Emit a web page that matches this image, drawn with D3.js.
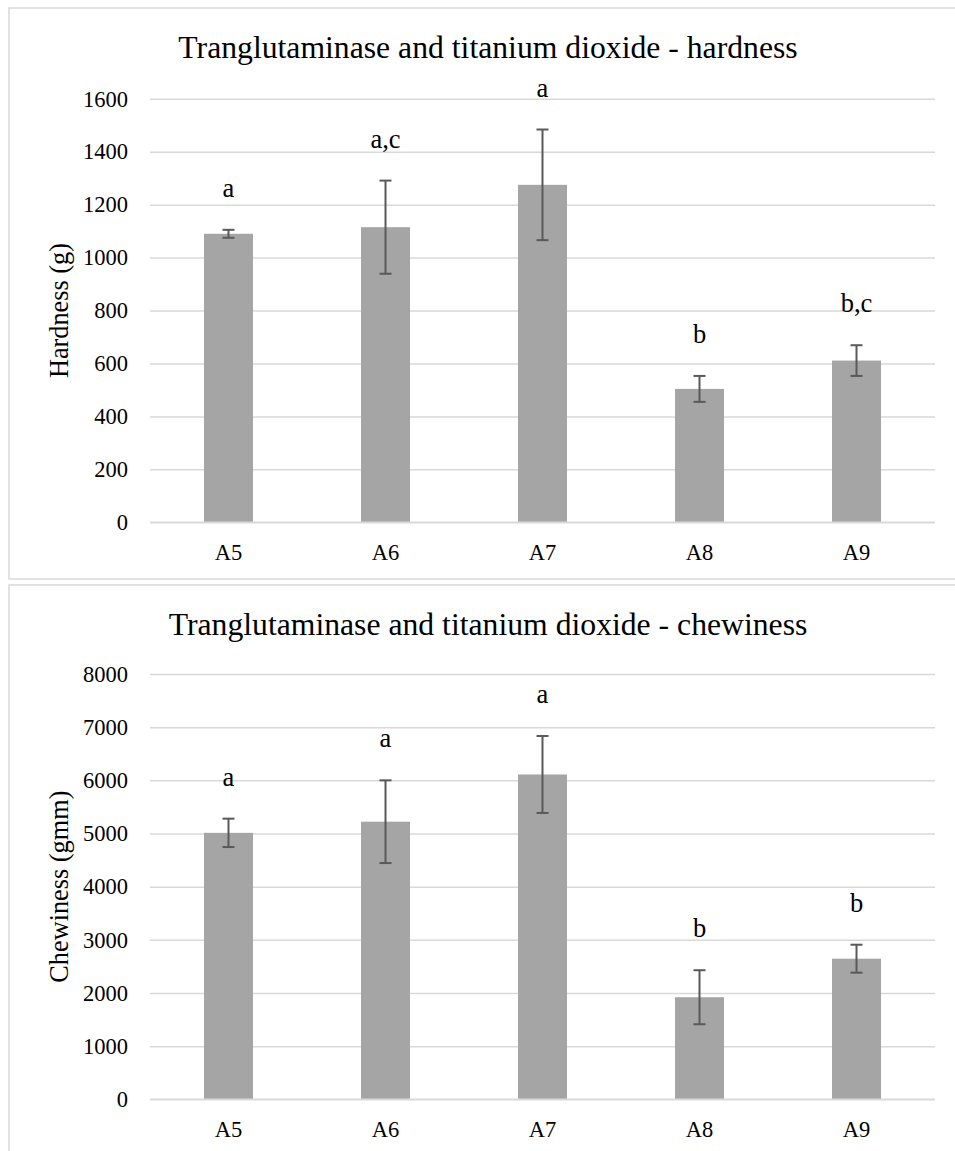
<!DOCTYPE html>
<html>
<head>
<meta charset="utf-8">
<script src="https://cdn.jsdelivr.net/npm/d3@7"></script>
<style>
  html, body { margin: 0; padding: 0; background: #ffffff; }
  svg { display: block; }
  svg text { font-family: "Liberation Serif", "Times New Roman", serif !important; }
</style>
</head>
<body>
<svg id="chart" width="955" height="1151"></svg>
<script>
// ---- data ----
const categories = ["A5", "A6", "A7", "A8", "A9"];

const hardnessValues = [1090, 1115, 1275, 504, 611];
const hardnessErrors = [15, 176, 209, 49, 58];
const hardnessLetters = ["a", "a,c", "a", "b", "b,c"];
const hardnessTicks = [0, 200, 400, 600, 800, 1000, 1200, 1400, 1600];

const chewinessValues = [5012, 5222, 6110, 1920, 2645];
const chewinessErrors = [267, 778, 724, 508, 263];
const chewinessLetters = ["a", "a", "a", "b", "b"];
const chewinessTicks = [0, 1000, 2000, 3000, 4000, 5000, 6000, 7000, 8000];

const titles = [
  "Tranglutaminase and titanium dioxide - hardness",
  "Tranglutaminase and titanium dioxide - chewiness"
];
const yTitles = ["Hardness (g)", "Chewiness (gmm)"];

// ---- drawing ----
const FONT = "'Liberation Serif', 'Times New Roman', serif";
const svg = d3.select("#chart");

const panels = [
  { top: 8, bottom: 579, plotTop: 98.8, plotBottom: 522.3,
    values: hardnessValues, errors: hardnessErrors, letters: hardnessLetters,
    ticks: hardnessTicks, title: titles[0], yTitle: yTitles[0] },
  { top: 585, bottom: 1170, plotTop: 674, plotBottom: 1099.3,
    values: chewinessValues, errors: chewinessErrors, letters: chewinessLetters,
    ticks: chewinessTicks, title: titles[1], yTitle: yTitles[1] }
];

const plotLeft = 150, plotRight = 935;
const gridColor = "#d9d9d9";

panels.forEach(p => {
  const g = svg.append("g");

  // chart area border
  g.append("rect")
    .attr("x", 9).attr("y", p.top)
    .attr("width", 1000).attr("height", p.bottom - p.top)
    .attr("fill", "#ffffff")
    .attr("stroke", gridColor).attr("stroke-width", 1.5);

  const x = d3.scaleBand()
    .domain(categories)
    .range([plotLeft, plotRight])
    .paddingInner(0.688)
    .paddingOuter(0.344);

  const y = d3.scaleLinear()
    .domain([d3.min(p.ticks), d3.max(p.ticks)])
    .range([p.plotBottom, p.plotTop]);

  // gridlines + y tick labels via axis
  const yAxis = d3.axisLeft(y)
    .tickValues(p.ticks)
    .tickSize(-(plotRight - plotLeft))
    .tickPadding(22)
    .tickFormat(d3.format("d"));

  const ya = g.append("g")
    .attr("transform", `translate(${plotLeft},0)`)
    .call(yAxis)
    .attr("font-family", null);
  ya.select(".domain").remove();
  ya.selectAll(".tick line")
    .attr("stroke", gridColor).attr("stroke-width", 1.5);
  ya.selectAll(".tick text")
    .style("font-family", FONT)
    .style("font-size", "22.5px")
    .attr("fill", "#000000");

  // bars
  g.selectAll("rect.bar")
    .data(p.values)
    .enter().append("rect")
    .attr("class", "bar")
    .attr("x", (d, i) => x(categories[i]))
    .attr("y", d => y(d))
    .attr("width", x.bandwidth())
    .attr("height", d => y(0) - y(d))
    .attr("fill", "#a5a5a5");

  // x-axis baseline
  g.append("line")
    .attr("x1", plotLeft).attr("x2", plotRight)
    .attr("y1", y(0)).attr("y2", y(0))
    .attr("stroke", gridColor).attr("stroke-width", 1.5);

  // x tick labels via axis
  const xAxis = d3.axisBottom(x).tickSize(0).tickPadding(22);
  const xa = g.append("g")
    .attr("transform", `translate(0,${y(0)})`)
    .call(xAxis)
    .attr("font-family", null);
  xa.select(".domain").remove();
  xa.selectAll(".tick text")
    .style("font-family", FONT)
    .style("font-size", "22.5px")
    .attr("fill", "#000000")
    .attr("dy", "0.71em");

  // error bars
  const cx = i => x(categories[i]) + x.bandwidth() / 2;
  const capHalf = 6;
  const eb = g.selectAll("g.err")
    .data(p.values.map((v, i) => ({ v, e: p.errors[i], i })))
    .enter().append("g").attr("class", "err")
    .attr("stroke", "#595959").attr("stroke-width", 2);
  eb.append("line")
    .attr("x1", d => cx(d.i)).attr("x2", d => cx(d.i))
    .attr("y1", d => y(d.v + d.e)).attr("y2", d => y(d.v - d.e));
  eb.append("line")
    .attr("x1", d => cx(d.i) - capHalf).attr("x2", d => cx(d.i) + capHalf)
    .attr("y1", d => y(d.v + d.e)).attr("y2", d => y(d.v + d.e));
  eb.append("line")
    .attr("x1", d => cx(d.i) - capHalf).attr("x2", d => cx(d.i) + capHalf)
    .attr("y1", d => y(d.v - d.e)).attr("y2", d => y(d.v - d.e));

  // significance letters
  g.selectAll("text.letter")
    .data(p.letters)
    .enter().append("text")
    .attr("class", "letter")
    .attr("x", (d, i) => cx(i))
    .attr("y", (d, i) => y(p.values[i] + p.errors[i]) - 33)
    .attr("text-anchor", "middle")
    .style("font-family", FONT)
    .style("font-size", "26.5px")
    .attr("fill", "#000000")
    .text(d => d);

  // chart title
  g.append("text")
    .attr("x", 488)
    .attr("y", p.top + 50)
    .attr("text-anchor", "middle")
    .style("font-family", FONT)
    .style("font-size", "31.7px")
    .attr("fill", "#000000")
    .text(p.title);

  // y-axis title
  g.append("text")
    .attr("transform", `translate(68,${(p.plotTop + p.plotBottom) / 2}) rotate(-90)`)
    .attr("text-anchor", "middle")
    .style("font-family", FONT)
    .style("font-size", "26.3px")
    .attr("fill", "#000000")
    .text(p.yTitle);
});
</script>
</body>
</html>
